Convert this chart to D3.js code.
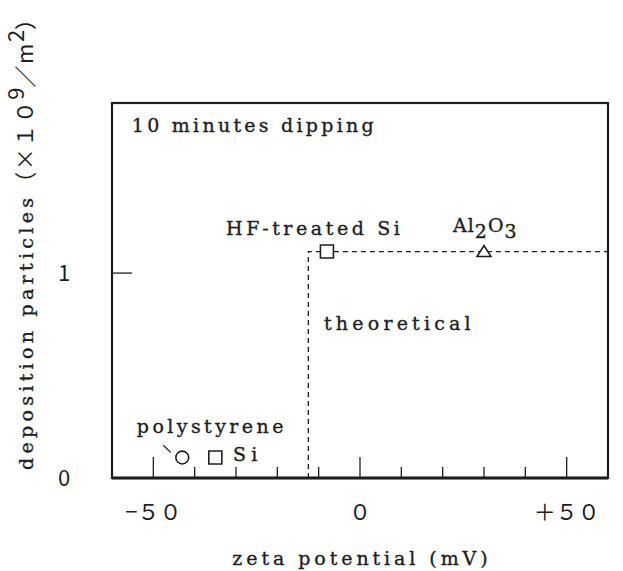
<!DOCTYPE html>
<html>
<head>
<meta charset="utf-8">
<script src="https://cdn.jsdelivr.net/npm/d3@7"></script>
<style>
  body { margin: 0; background: #fff; }
  text { fill: #1e1e1e; }
  .mono { font-family: "DejaVu Serif", serif; font-size: 19px; stroke: #1e1e1e; stroke-width: 0.35; }
  .wide { font-family: "Noto Sans CJK JP", sans-serif; font-size: 22px; }
</style>
</head>
<body>
<script>
const width = 623, height = 571;

// data
const materials = ["polystyrene", "Si", "HF-treated Si", "Al2O3"];
const zeta = [-43, -35, -8, 30];           // mV
const deposition = [0.10, 0.10, 1.105, 1.105]; // x10^9 / m^2
const shapes = ["circle", "square", "square", "triangle"];

// theoretical step
const theoryZeta = [-12.5, -12.5, 60];
const theoryDep = [0, 1.105, 1.105];

const xTicks = [-50, -40, -30, -20, -10, 0, 10, 20, 30, 40, 50];
const xMajor = [-50, 0, 50];
const xMajorLabels = ["−５０", "０", "＋５０"];
const yTicks = [1];
const yLabelValues = [0, 1];
const yLabels = ["0", "1"];

const charW = 13.6; // the typewriter pitch of the original lettering

const x = d3.scaleLinear().domain([-60, 60]).range([112, 608]);
const y = d3.scaleLinear().domain([0, 1.83]).range([478, 103]);

const svg = d3.select("body").append("svg")
    .attr("width", width)
    .attr("height", height);

function label(sel, str, px, py, anchor) {
  return sel.append("text").attr("class", "mono")
      .attr("x", px).attr("y", py)
      .attr("text-anchor", anchor || "start")
      .attr("textLength", str.length * charW - 3)
      .attr("lengthAdjust", "spacing")
      .text(str);
}

// frame
svg.append("rect")
    .attr("x", x(-60)).attr("y", y(1.83))
    .attr("width", x(60) - x(-60)).attr("height", y(0) - y(1.83))
    .attr("fill", "none").attr("stroke", "#1e1e1e").attr("stroke-width", 2.2);
svg.append("line")
    .attr("x1", x(-60)).attr("x2", x(60))
    .attr("y1", y(0)).attr("y2", y(0))
    .attr("stroke", "#1e1e1e").attr("stroke-width", 3);

// inward ticks on the bottom
svg.selectAll(".xtick")
    .data(xTicks)
    .enter().append("line")
    .attr("x1", d => x(d)).attr("x2", d => x(d))
    .attr("y1", y(0))
    .attr("y2", d => y(0) - (xMajor.includes(d) ? 21 : 11))
    .attr("stroke", "#1e1e1e").attr("stroke-width", 1.3);

svg.selectAll(".xlab")
    .data(xMajor)
    .enter().append("text")
    .attr("class", "wide")
    .attr("x", d => x(d)).attr("y", 520)
    .attr("text-anchor", "middle")
    .text((d, i) => xMajorLabels[i]);

// y tick (inward from the left)
svg.selectAll(".ytick")
    .data(yTicks)
    .enter().append("line")
    .attr("x1", x(-60)).attr("x2", x(-60) + 20)
    .attr("y1", d => y(d)).attr("y2", d => y(d))
    .attr("stroke", "#1e1e1e").attr("stroke-width", 1.3);

svg.selectAll(".ylab")
    .data(yLabelValues)
    .enter().append("text")
    .attr("class", "wide")
    .attr("x", 64).attr("y", d => y(d) + 8)
    .attr("text-anchor", "middle")
    .text((d, i) => yLabels[i]);

// theoretical dashed line
const line = d3.line().x(d => x(d[0])).y(d => y(d[1]));
svg.append("path")
    .datum(theoryZeta.map((z, i) => [z, theoryDep[i]]))
    .attr("d", line)
    .attr("fill", "none").attr("stroke", "#1e1e1e")
    .attr("stroke-width", 1.3).attr("stroke-dasharray", "5,4");

// measured points
const pts = svg.selectAll(".pt")
    .data(materials.map((m, i) => ({ m, z: zeta[i], d: deposition[i], s: shapes[i] })))
    .enter().append("g")
    .attr("transform", d => `translate(${x(d.z)},${y(d.d)})`);

pts.append("path")
    .attr("d", d => {
      if (d.s === "circle") return d3.symbol(d3.symbolCircle, 130)();
      if (d.s === "square") return "M-6.5,-6.5H6.5V6.5H-6.5Z";
      return "M0,-6L7,5H-7Z";
    })
    .attr("fill", "#fff").attr("stroke", "#1e1e1e").attr("stroke-width", 1.6);

// annotations
label(svg, "10 minutes dipping", x(-55.2), y(1.69));
label(svg, "HF-treated Si", x(-32.4), y(1.185));
const al = svg.append("text").attr("class", "mono")
    .attr("x", x(22.5)).attr("y", y(1.2))
    .attr("letter-spacing", 1);
al.append("tspan").text("Al");
al.append("tspan").attr("dy", 6).text("2");
al.append("tspan").attr("dy", -6).text("O");
al.append("tspan").attr("dy", 6).text("3");
label(svg, "theoretical", x(-8.7), y(0.72));
label(svg, "polystyrene", x(-54), y(0.22));
label(svg, "Si", x(-30.7), y(0.083));
svg.append("line")
    .attr("x1", x(-47.6)).attr("y1", y(0.16))
    .attr("x2", x(-45.8)).attr("y2", y(0.125))
    .attr("stroke", "#1e1e1e").attr("stroke-width", 1.3);

// axis titles
label(svg, "zeta potential (mV)", x(0), 565, "middle");

const yt = svg.append("text")
    .attr("transform", "translate(33,470) rotate(-90)");
yt.append("tspan").attr("class", "mono")
    .attr("textLength", 20 * charW).attr("lengthAdjust", "spacing")
    .text("deposition particles");
yt.append("tspan").attr("class", "wide").attr("letter-spacing", 1.5).text("（×１０");
yt.append("tspan").attr("class", "wide").attr("font-size", 12).attr("dy", -9).text("9");
yt.append("tspan").attr("class", "wide").attr("letter-spacing", 1.5).attr("dy", 9).text("／m");
yt.append("tspan").attr("class", "wide").attr("font-size", 12).attr("dy", -9).text("2");
yt.append("tspan").attr("class", "wide").attr("dy", 9).text("）");
</script>
</body>
</html>
